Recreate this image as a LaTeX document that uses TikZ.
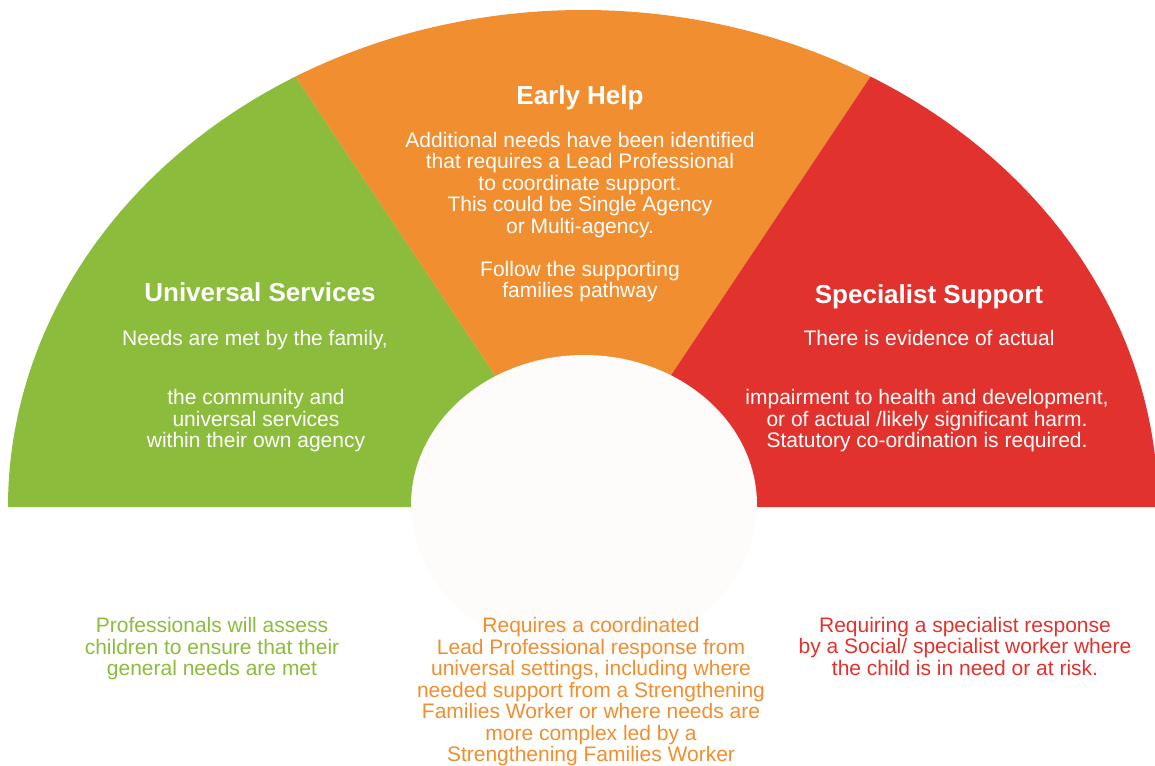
\documentclass[tikz,border=0pt]{standalone}
\usepackage{fontspec}
\setmainfont{Liberation Sans}
\usetikzlibrary{positioning}
\definecolor{univgreen}{HTML}{8CBC3B}
\definecolor{earlyorange}{HTML}{F18E2F}
\definecolor{specred}{HTML}{E2322D}
\definecolor{holewhite}{HTML}{FDFCFA}

\begin{document}
\begin{tikzpicture}[x=0.5pt,y=0.5pt,
  title/.style={font=\bfseries\fontsize{13}{15}\selectfont,text=white,inner sep=0pt},
  body/.style={font=\fontsize{10.5}{10.75}\selectfont,align=center,inner sep=0pt}]
\useasboundingbox (-583,-258) rectangle (572,507);

% the three sectors of the fan
\fill[univgreen] (0,0) -- (120:575 and 497) arc[start angle=120,end angle=180,x radius=575,y radius=497] -- cycle;
\fill[earlyorange] (0,0) -- (60:575 and 497) arc[start angle=60,end angle=120,x radius=575,y radius=497] -- cycle;
\fill[specred] (0,0) -- (0:575 and 497) arc[start angle=0,end angle=60,x radius=575,y radius=497] -- cycle;
\fill[holewhite] (1,2) ellipse[x radius=173,y radius=150];

\node[title](1) at (-323,215){Universal Services};
\node[body,text=white](2) at (-328,167){Needs are met by the family,};
\node[body,text=white](3) at (-327,86){the community and\\universal services\\within their own agency};

\node[title](4) at (-3,409){Early Help};
\node[body,text=white](5) at (-3,290){Additional needs have been identified\\that requires a Lead Professional\\to coordinate support.\\This could be Single Agency\\or Multi-agency.\\[10.75pt]Follow the supporting\\families pathway};

\node[title](6) at (346,210){Specialist Support};
\node[body,text=white](7) at (346,169){There is evidence of actual};
\node[body,text=white](8) at (344,86){impairment to health and development,\\or of actual /likely significant harm.\\Statutory co-ordination is required.};

% captions under the fan
\node[body,text=univgreen](9) at (-371,-142){Professionals will assess\\children to ensure that their\\general needs are met};
\node[body,text=earlyorange](10) at (8,-185){Requires a coordinated\\Lead Professional response from\\universal settings, including where\\needed support from a Strengthening\\Families Worker or where needs are\\more complex led by a\\Strengthening Families Worker};
\node[body,text=specred](11) at (382,-139){Requiring a specialist response\\by a Social/ specialist worker where\\the child is in need or at risk.};

\end{tikzpicture}
\end{document}
